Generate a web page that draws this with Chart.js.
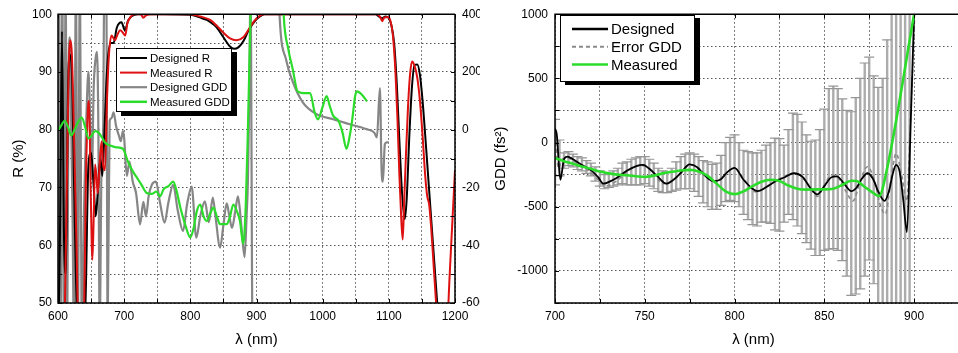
<!DOCTYPE html>
<html><head><meta charset="utf-8">
<script src="https://cdn.jsdelivr.net/npm/chart.js@4.4.1/dist/chart.umd.min.js"></script>
<style>
html,body{margin:0;padding:0;background:#fff;overflow:hidden;}
#wrap{position:relative;width:958px;height:353px;background:#fff;}
#c1{position:absolute;left:0;top:0;}
#c2{position:absolute;left:480px;top:0;}
</style></head><body>
<div id="wrap"><canvas id="c1" width="480" height="353"></canvas><canvas id="c2" width="478" height="353"></canvas></div>
<script>
// ---------- LEFT PANEL DATA: [wavelength nm, value] ----------
const designedR = [[600,40],[603,62],[606,97],[609,62],[612,55],[615,86],[618,93],[621,90],[624,72],[627,55],[630,42],[638,40],[642,52],[646,74],[650,76],[654,70],[657,65],[660,69],[664,75],[667,72],[670,79],[673,88],[676,93],[680,95],[684,95],[689,97.7],[696,98.6],[701,97.2],[706,98.9],[712,99.7],[720,100],[760,100],[800,99.9],[815,99.4],[825,99],[833,98.4],[840,97.7],[850,96],[860,94.4],[866,94],[873,94.3],[881,95.5],[888,97.2],[896,98.6],[905,99.6],[912,100],[1080,100],[1085,99.6],[1090,99.3],[1095,99.6],[1100,99.3],[1104,98],[1108,95],[1112,88],[1116,78],[1120,69],[1124,64.5],[1127,68],[1131,79],[1135,87.5],[1139,91.2],[1143,91.3],[1147,89.5],[1151,85],[1155,79],[1160,71],[1165,63],[1170,55],[1175,47],[1180,40],[1200,35]];
const measuredR = [[600,40],[608,40],[612,60],[616,90],[619,95.5],[621,93],[623,85],[626,70],[628,60],[630,48],[634,40],[639,45],[642,70],[645,83],[647,85],[649,72],[651,60],[652,57.5],[654,65],[656,74],[658,72],[660,69],[662,72],[664,76],[666,78],[668,74],[671,73],[674,85],[677,93],[681,96.3],[686,95.5],[690,96.5],[694,97.2],[698,96.8],[701.5,96.3],[705,98.5],[709,99.4],[715,100],[725,100],[729,99.4],[733,99.8],[740,100],[800,100],[815,99.6],[830,99],[840,98],[850,96.8],[860,95.8],[870,95.5],[880,96],[890,97.7],[897,98.9],[906,99.8],[912,100],[1082,100],[1087,99.5],[1090,98.8],[1093,99.4],[1098,99.5],[1102,99],[1106,96.5],[1110,90],[1113,82],[1116,72],[1119,64],[1121,61],[1123,67],[1126,76],[1129,84],[1132,89.5],[1135,91.8],[1139,91],[1143,89],[1147,85],[1151,79],[1155,72],[1158,68.5],[1161,67],[1164,63],[1168,56],[1172,49],[1176,42],[1182,38],[1188,45],[1192,55],[1196,64],[1200,73]];
const designedGDD = [[600,-700],[601.5,500],[604,-700],[606.5,500],[609,-700],[611.5,500],[614,-700],[616,200],[618,320],[620,0],[622,-300],[624,-700],[627,500],[630,-700],[633,500],[636,-700],[640,-200],[643,50],[646,200],[649,0],[651,-170],[654,150],[657,250],[659,270],[661,0],[663,-700],[666,-100],[668,-50],[670,500],[673,500],[675,-700],[678,30],[681,40],[684,60],[688,10],[692,-20],[695,-40],[698,-5],[700,-30],[704,-160],[708,-110],[713,-180],[718,-220],[724,-328],[729,-250],[733,-300],[737,-230],[742,-190],[748,-180],[754,-250],[761,-322],[767,-250],[774,-191],[781,-280],[789,-351],[795,-260],[802,-197],[809,-374],[815,-300],[822,-248],[828,-320],[834,-235],[838,-300],[845,-408],[850,-330],[855,-255],[859,-300],[863,-340],[868,-280],[872,-231],[877,-330],[882,-441],[885,-300],[887,-180],[889,100],[891,500],[894,-700],[897,-700],[915,null],[932,600],[935,390],[945,240],[955,165],[970,95],[990,55],[1016,36],[1041,19],[1066,2],[1078,-10],[1082,-27],[1086.5,144],[1089,-135],[1091,-180],[1094,-50],[1097,-44],[1100,-43]];
const measuredGDD = [[600,-3],[605,15],[610,31],[615,10],[620,-20],[625,0],[630,25],[636,42],[641,10],[646,-30],[651,-20],[656,-5],[661,-9],[666,-25],[671,-44],[679,-55],[688,-61],[698,-66],[706,-112],[712,-140],[719,-165],[726,-190],[734,-219],[742,-222],[749,-214],[754,-231],[760,-205],[767,-195],[774,-180],[779,-210],[785,-270],[792,-327],[800,-373],[805,-340],[810,-280],[815,-259],[820,-300],[825,-316],[830,-290],[835,-270],[840,-300],[845,-327],[850,-327],[855,-327],[860,-300],[865,-259],[870,-280],[875,-316],[880,-395],[884,-248],[887,0],[891,400],[895,700],[910,900],[935,800],[941,400],[948,280],[955,207],[962,133],[970,127],[981,127],[988,59],[993,36],[1000,80],[1006,116],[1011,80],[1016,48],[1024,31],[1030,-10],[1036,-66],[1041,-20],[1045,40],[1049,116],[1052,133],[1059,122],[1067,98]];

// ---------- RIGHT PANEL DATA ----------
const rDesigned = [[700,110],[701,60],[703,-290],[705,-130],[707,-110],[710,-130],[715,-175],[720,-215],[724,-270],[727,-320],[731,-300],[735,-270],[740,-220],[745,-185],[749,-174],[753,-210],[757,-262],[762,-320],[766,-290],[770,-237],[775,-170],[779,-190],[783,-250],[788,-300],[792,-290],[796,-230],[800,-198],[805,-290],[810,-360],[813,-379],[818,-345],[823,-300],[828,-270],[833,-239],[838,-270],[842,-350],[846,-404],[850,-340],[854,-270],[857,-264],[861,-320],[865,-379],[868,-350],[871,-280],[874,-239],[877,-280],[880,-380],[883.5,-455],[886,-380],[888,-250],[890,-174],[892,-230],[894,-450],[896,-698],[898,100],[900,1000],[902,1800]];
const rErrorGDD = [[700,60],[702,-200],[704,-130],[707,-120],[712,-160],[718,-210],[724,-290],[728,-340],[732,-320],[736,-280],[741,-220],[746,-180],[750,-180],[755,-240],[760,-320],[765,-300],[770,-240],[775,-175],[780,-200],[785,-270],[790,-300],[795,-240],[800,-200],[806,-300],[812,-385],[818,-340],[824,-290],[830,-250],[834,-240],[839,-290],[843,-370],[846,-420],[850,-330],[854,-252],[858,-280],[862,-380],[866,-455],[870,-300],[874,-188],[878,-300],[881,-480],[884,-557],[887,-300],[890,-85],[893,-250],[896,-455],[898,200],[900,870],[901,1500]];
const rMeasured = [[700,-120],[705,-145],[710,-165],[715,-186],[720,-205],[725,-225],[730,-240],[735,-250],[740,-255],[745,-262],[750,-268],[755,-258],[760,-240],[765,-228],[770,-218],[775,-213],[780,-225],[785,-260],[790,-320],[795,-380],[800,-402],[805,-380],[810,-340],[815,-305],[820,-290],[825,-300],[830,-335],[835,-360],[840,-367],[845,-365],[850,-365],[855,-360],[860,-330],[865,-297],[868,-300],[872,-340],[876,-380],[880.5,-417],[884.6,-226],[900,1000]];
const errX = [700,702.5,705,707.5,710,712.5,715,717.5,720,722.5,725,727.5,730,732.5,735,737.5,740,742.5,745,747.5,750,752.5,755,757.5,760,762.5,765,767.5,770,772.5,775,777.5,780,782.5,785,787.5,790,792.5,795,797.5,800,802.5,805,807.5,810,812.5,815,817.5,820,822.5,825,827.5,830,832.5,835,837.5,840,842.5,845,847.5,850,852.5,855,857.5,860,862.5,865,867.5,870,872.5,875,877.5,880,882.5,885,887.5,890,892.5,895,897.5];
const errLow = [-330,-260,-200,-180,-190,-210,-220,-240,-260,-300,-340,-360,-350,-340,-330,-320,-330,-330,-330,-330,-320,-340,-360,-380,-390,-390,-380,-370,-360,-360,-360,-380,-420,-470,-500,-520,-520,-490,-460,-450,-460,-500,-560,-600,-640,-650,-620,-620,-630,-680,-690,-620,-560,-600,-650,-710,-780,-830,-880,-880,-840,-830,-826,-840,-920,-1040,-1190,-1180,-1140,-1040,-915,-1100,-1300,-1300,-1300,-1300,-1300,-1300,-1300,-1300];
const errHigh = [180,20,-80,-70,-90,-110,-120,-140,-160,-190,-220,-250,-240,-220,-200,-160,-150,-130,-120,-110,-110,-130,-160,-200,-220,-230,-200,-150,-110,-90,-80,-90,-110,-140,-150,-170,-160,-100,0,40,60,0,-60,-70,-80,-80,-60,-20,0,35,30,-20,100,230,220,160,60,10,20,100,260,420,440,420,340,250,240,350,500,620,665,520,430,500,800,1100,1100,1100,1100,1100];

// ---------- helpers ----------
const FONT = "'Liberation Sans', Arial, Helvetica, sans-serif";
Chart.defaults.font.family = FONT;
Chart.defaults.color = '#000';
const toPts = arr => arr.map(p => ({x: p[0], y: p[1]}));
const barPts = [];
errX.forEach((x, i) => { barPts.push({x, y: errLow[i]}, {x, y: errHigh[i]}, {x, y: null}); });
const capPts = [];
errX.forEach((x, i) => { capPts.push({x, y: errLow[i]}, {x, y: errHigh[i]}); });

const framePlugin = {
  id: 'frame',
  afterDatasetsDraw(chart, args, o) {
    const {ctx, chartArea: a} = chart;
    const rx = o.rightBorder ? a.right : a.right + 10;
    ctx.save();
    ctx.strokeStyle = '#000'; ctx.lineWidth = 1.5; ctx.setLineDash([]);
    ctx.beginPath();
    ctx.moveTo(rx, a.top); ctx.lineTo(a.left, a.top); ctx.lineTo(a.left, a.bottom); ctx.lineTo(rx, a.bottom);
    if (o.rightBorder) { ctx.moveTo(a.right, a.top); ctx.lineTo(a.right, a.bottom); }
    ctx.stroke();
    ctx.lineWidth = 1;
    ctx.beginPath();
    const xs = chart.scales.x, ys = chart.scales.y;
    xs.ticks.forEach(t => { const p = Math.round(xs.getPixelForValue(t.value)) + 0.5; ctx.moveTo(p, a.bottom); ctx.lineTo(p, a.bottom - 4); ctx.moveTo(p, a.top); ctx.lineTo(p, a.top + 4); });
    ys.ticks.forEach(t => { const p = Math.round(ys.getPixelForValue(t.value)) + 0.5; ctx.moveTo(a.left, p); ctx.lineTo(a.left + 4, p); if (o.rightBorder) { ctx.moveTo(a.right, p); ctx.lineTo(a.right - 4, p); } });
    ctx.stroke();
    ctx.restore();
  }
};
const boxLegend = {
  id: 'boxLegend',
  afterDraw(chart, args, o) {
    const ctx = chart.ctx;
    ctx.save();
    ctx.fillStyle = '#000'; ctx.fillRect(o.bx + o.sx, o.by + o.sy, o.bw, o.bh);
    ctx.fillStyle = '#fff'; ctx.fillRect(o.bx, o.by, o.bw, o.bh);
    ctx.strokeStyle = '#000'; ctx.lineWidth = 1; ctx.strokeRect(o.bx + 0.5, o.by + 0.5, o.bw - 1, o.bh - 1);
    ctx.font = o.fontSize + 'px ' + FONT; ctx.textBaseline = 'middle'; ctx.textAlign = 'left';
    chart.data.datasets.forEach(d => {
      if (d.legendRow === undefined) return;
      const ry = o.row0 + d.legendRow * o.rowH;
      ctx.strokeStyle = d.borderColor; ctx.lineWidth = d.legendWidth || d.borderWidth; ctx.setLineDash(d.borderDash || []);
      ctx.beginPath(); ctx.moveTo(o.lx0, ry); ctx.lineTo(o.lx1, ry); ctx.stroke();
      ctx.setLineDash([]);
      ctx.fillStyle = '#000'; ctx.fillText(d.label, o.tx, ry + 1);
    });
    ctx.restore();
  }
};
const gridCommon = {color: '#555', lineWidth: 1, drawTicks: false};
const borderCommon = {display: false, dash: [1.5, 2.5]};

// ---------- LEFT CHART ----------
new Chart(document.getElementById('c1'), {
  type: 'line',
  data: {datasets: [
    {label: 'Measured GDD', data: toPts(measuredGDD), yAxisID: 'y2', borderColor: '#2bdc2b', borderWidth: 2.2, legendRow: 3, legendWidth: 2.5},
    {label: 'Measured R', data: toPts(measuredR), yAxisID: 'y', borderColor: '#dd1111', borderWidth: 2, legendRow: 1},
    {label: 'Designed R', data: toPts(designedR), yAxisID: 'y', borderColor: '#000000', borderWidth: 2, legendRow: 0},
    {label: 'Designed GDD', data: toPts(designedGDD), yAxisID: 'y2', borderColor: '#868686', borderWidth: 2.2, legendRow: 2}
  ]},
  options: {
    responsive: false, animation: false, devicePixelRatio: 1,
    layout: {padding: {top: 10, left: 0, right: 0, bottom: 0}},
    elements: {point: {radius: 0}, line: {cubicInterpolationMode: 'monotone'}},
    plugins: {legend: {display: false}, tooltip: {enabled: false},
      frame: {rightBorder: true},
      boxLegend: {bx: 116, by: 48, bw: 116, bh: 64, sx: 5, sy: 4, fontSize: 11.5, row0: 58, rowH: 14.6, lx0: 120, lx1: 147, tx: 150}},
    scales: {
      x: {type: 'linear', min: 600, max: 1200, afterFit(s) { s.height = 50; },
        ticks: {stepSize: 50, autoSkip: false, maxRotation: 0, padding: 6, font: {size: 12}, callback: v => (v % 100 === 0 ? v : '')},
        grid: gridCommon, border: borderCommon,
        title: {display: true, text: 'λ (nm)', font: {size: 15}, padding: {top: 0, bottom: 4}}},
      y: {type: 'linear', position: 'left', min: 50, max: 100, afterFit(s) { s.width = 58; },
        ticks: {stepSize: 5, autoSkip: false, padding: 6, font: {size: 12}, callback: v => (v % 10 === 0 ? v : '')},
        grid: gridCommon, border: borderCommon,
        title: {display: true, text: 'R (%)', font: {size: 15}, padding: {top: 10, bottom: 0}}},
      y2: {type: 'linear', position: 'right', min: -600, max: 400, afterFit(s) { s.width = 25; },
        ticks: {stepSize: 200, autoSkip: false, padding: 7, font: {size: 12}},
        grid: {display: false, drawTicks: false}, border: {display: false}}
    }
  },
  plugins: [framePlugin, boxLegend]
});

// ---------- RIGHT CHART ----------
new Chart(document.getElementById('c2'), {
  type: 'line',
  data: {datasets: [
    {label: 'Measured', data: toPts(rMeasured), borderColor: '#2bdc2b', borderWidth: 2.6, legendRow: 2, legendWidth: 2.5},
    {label: 'Designed', data: toPts(rDesigned), borderColor: '#000000', borderWidth: 1.8, legendRow: 0, legendWidth: 2.5},
    {label: 'Error GDD', data: toPts(rErrorGDD), borderColor: '#8a8a8a', borderWidth: 1.6, borderDash: [4, 3], legendRow: 1, legendWidth: 2},
    {label: 'caps', data: capPts, showLine: false, pointStyle: 'line', pointRadius: 5, pointBorderColor: '#969696', pointBorderWidth: 1.2, borderColor: '#969696'},
    {label: 'bars', data: barPts, borderColor: '#acacac', borderWidth: 2.4, tension: 0, cubicInterpolationMode: 'default', spanGaps: false}
  ]},
  options: {
    responsive: false, animation: false, devicePixelRatio: 1,
    layout: {padding: {top: 10, left: 0, right: 0, bottom: 0}},
    elements: {point: {radius: 0}, line: {cubicInterpolationMode: 'monotone'}},
    plugins: {legend: {display: false}, tooltip: {enabled: false},
      frame: {rightBorder: false},
      boxLegend: {bx: 80, by: 15, bw: 135, bh: 67, sx: 5, sy: 3, fontSize: 15, row0: 29, rowH: 17.7, lx0: 92, lx1: 128, tx: 131}},
    scales: {
      x: {type: 'linear', min: 700, max: 921, afterFit(s) { s.height = 50; },
        ticks: {stepSize: 25, includeBounds: false, autoSkip: false, maxRotation: 0, padding: 6, font: {size: 12}, callback: v => (v % 50 === 0 ? v : '')},
        grid: gridCommon, border: borderCommon,
        title: {display: true, text: 'λ (nm)', font: {size: 15}, padding: {top: 0, bottom: 4}}},
      y: {type: 'linear', position: 'left', min: -1250, max: 1000, afterFit(s) { s.width = 75; },
        ticks: {stepSize: 250, autoSkip: false, padding: 7, font: {size: 12}, callback: v => (v % 500 === 0 ? v : '')},
        grid: gridCommon, border: borderCommon,
        title: {display: true, text: 'GDD (fs²)', font: {size: 15}, padding: {top: 12, bottom: 0}}}
    }
  },
  plugins: [framePlugin, boxLegend]
});
</script></body></html>
